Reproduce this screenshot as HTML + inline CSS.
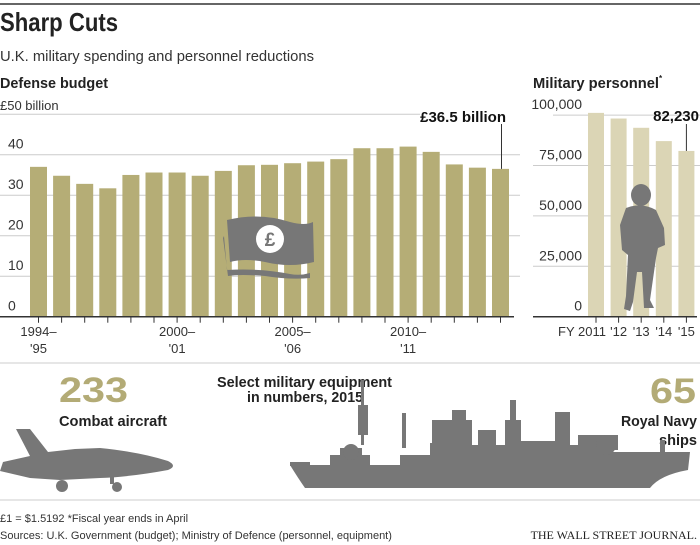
<!DOCTYPE html>
<html><head><meta charset="utf-8"><style>
body{margin:0;background:#fff;}
svg{display:block;font-family:"Liberation Sans",sans-serif;}
</style></head><body>
<svg width="700" height="545" viewBox="0 0 700 545">
<line x1="0" y1="4" x2="700" y2="4" stroke="#333" stroke-width="1.5"/>
<text x="0" y="31" font-size="26" font-weight="bold" fill="#222" textLength="118" lengthAdjust="spacingAndGlyphs">Sharp Cuts</text>
<text x="0" y="61" font-size="15" fill="#333" textLength="314" lengthAdjust="spacingAndGlyphs">U.K. military spending and personnel reductions</text>
<text x="0" y="88" font-size="15" font-weight="bold" fill="#222" textLength="108" lengthAdjust="spacingAndGlyphs">Defense budget</text>
<text x="0" y="110" font-size="13" fill="#333">£50 billion</text>
<text x="533" y="88" font-size="15" font-weight="bold" fill="#222"><tspan textLength="126" lengthAdjust="spacingAndGlyphs">Military personnel</tspan><tspan font-size="8" dy="-7">*</tspan></text>
<g id="budget"></g>
<g id="pers"></g>
<g>
<path d="M227 220 Q260 212 290 222 Q305 226 313 222 L314 262 Q290 268 265 262 Q245 258 230 262 Z" fill="#777"/>
<path d="M224 236 L227 270 Q260 268 290 274 Q300 276 310 273 L310 278 Q290 280 265 276 Q240 274 228 276 L223 238 Z" fill="#777"/>
<circle cx="270" cy="239" r="14" fill="#fff"/>
<text x="270" y="246" font-size="19" font-weight="bold" fill="#777" text-anchor="middle">£</text>
</g>
<g fill="#777">
<ellipse cx="641" cy="195" rx="10" ry="11"/>
<path d="M626 208 Q641 202 656 210 L664 228 L665 245 L658 248 L656 258 L650 300 L654 308 L644 308 L642 272 L637 272 L633 302 L630 311 L624 309 L626 296 L628 255 L622 250 L620 225 Z"/>
</g>
<line x1="0" y1="363" x2="700" y2="363" stroke="#ccc"/>
<text x="59" y="402" font-size="35" font-weight="bold" fill="#b3ab76" textLength="69" lengthAdjust="spacingAndGlyphs">233</text>
<text x="59" y="426" font-size="15" font-weight="bold" fill="#222" textLength="108" lengthAdjust="spacingAndGlyphs">Combat aircraft</text>
<text x="217" y="387" font-size="15" font-weight="bold" fill="#222" textLength="175" lengthAdjust="spacingAndGlyphs">Select military equipment</text>
<text x="247" y="402" font-size="15" font-weight="bold" fill="#222" textLength="116" lengthAdjust="spacingAndGlyphs">in numbers, 2015</text>
<text x="650" y="403" font-size="35" font-weight="bold" fill="#b3ab76" textLength="46" lengthAdjust="spacingAndGlyphs">65</text>
<text x="621" y="426" font-size="15" font-weight="bold" fill="#222" textLength="76" lengthAdjust="spacingAndGlyphs">Royal Navy</text>
<text x="697" y="445" font-size="15" font-weight="bold" fill="#222" text-anchor="end" textLength="38" lengthAdjust="spacingAndGlyphs">ships</text>
<g fill="#777">
<path d="M16 429 L30 429 L48 452 L75 449 L100 448 Q140 452 168 461 Q178 466 168 470 Q130 477 100 478 L60 480 L30 478 L0 471 L3 462 L30 456 Z"/>
<circle cx="62" cy="486" r="6"/><circle cx="117" cy="487" r="5"/>
<rect x="110" y="474" width="4" height="10"/>
</g>
<g fill="#777">
<path d="M290 465 L400 465 L400 455 L430 455 L430 443 L470 443 L470 445 L510 445 L510 441 L560 441 L560 445 L600 445 L600 452 L690 452 L688 470 Q660 475 650 488 L305 488 Q298 478 290 465 Z"/>
<rect x="330" y="455" width="40" height="10"/>
<rect x="340" y="448" width="22" height="10"/>
<circle cx="351" cy="452" r="8"/>
<rect x="290" y="462" width="20" height="4"/>
<rect x="361" y="380" width="3" height="65"/>
<rect x="358" y="405" width="10" height="30"/>
<rect x="402" y="413" width="4" height="35"/>
<rect x="432" y="420" width="40" height="25"/>
<rect x="452" y="410" width="14" height="15"/>
<rect x="478" y="430" width="18" height="16"/>
<rect x="510" y="400" width="6" height="45"/>
<rect x="505" y="420" width="16" height="25"/>
<rect x="555" y="412" width="15" height="33"/>
<rect x="578" y="435" width="40" height="15"/>
<circle cx="606" cy="445" r="10"/>
<rect x="660" y="440" width="5" height="14"/>
</g>
<line x1="0" y1="500" x2="700" y2="500" stroke="#ccc"/>
<text x="0" y="522" font-size="11" fill="#333">£1 = $1.5192   *Fiscal year ends in April</text>
<text x="0" y="539" font-size="11" fill="#333">Sources: U.K. Government (budget); Ministry of Defence (personnel, equipment)</text>
<text x="697" y="539" font-size="12" font-family="Liberation Serif,serif" fill="#222" text-anchor="end">THE WALL STREET JOURNAL.</text>
</svg>
<script>
const budgetYears=["1994–'95","","","","","","2000–'01","","","","","2005–'06","","","","","2010–'11","","","",""];
const budgetValues=[37,34.8,32.8,31.7,35,35.6,35.6,34.8,36,37.4,37.5,37.9,38.3,38.9,41.6,41.6,42,40.7,37.6,36.8,36.5];
const budgetTicks=[0,10,20,30,40,50];
const persYears=["FY 2011","'12","'13","'14","'15"];
const persValues=[101100,98300,93700,87100,82230];
const persTicks=[0,25000,50000,75000,100000];
const NS="http://www.w3.org/2000/svg";
function mk(p,t,a){const e=document.createElementNS(NS,t);for(const k in a)e.setAttribute(k,a[k]);p.appendChild(e);return e;}
const bg=document.getElementById('budget');
const by=v=>316.7-v*4.05, bx=i=>30+i*23.1, bw=17;
budgetTicks.forEach(t=>{
 if(t>0&&t<50){const l=mk(bg,'line',{x1:0,x2:520,y1:by(t),y2:by(t),stroke:'#ccc'});
 
 }
 if(t<50){const tx=mk(bg,'text',{x:8,y:by(t)-6,'font-size':14,fill:'#333'});tx.textContent=t;
 
 }
});
{const l=mk(bg,'line',{x1:0,x2:420,y1:by(50),y2:by(50),stroke:'#ccc'});

}
budgetValues.forEach((v,i)=>{
 const r=mk(bg,'rect',{x:bx(i),y:by(v),width:bw,height:by(0)-by(v),fill:'#b5ad76'});
 
 
 const tk=mk(bg,'line',{x1:bx(i)+bw/2,x2:bx(i)+bw/2,y1:by(0),y2:by(0)+6,stroke:'#333'});
 
 
 if(budgetYears[i]){const p=budgetYears[i].split('–');
  const t1=mk(bg,'text',{x:bx(i)+bw/2,y:336,'font-size':13,fill:'#333','text-anchor':'middle'});t1.textContent=p[0]+'–';
  
  
  const t2=mk(bg,'text',{x:bx(i)+bw/2,y:353,'font-size':13,fill:'#333','text-anchor':'middle'});t2.textContent=p[1];
  
  }
});
{const l=mk(bg,'line',{x1:0,x2:514,y1:by(0),y2:by(0),stroke:'#333','stroke-width':1.5});


const li=budgetValues.length-1;
const c=mk(bg,'line',{x1:bx(li)+bw/2+1,x2:bx(li)+bw/2+1,y1:124,y2:by(budgetValues[li]),stroke:'#333'});


const ct=mk(bg,'text',{x:506,y:122,'font-size':15,'font-weight':'bold',fill:'#111','text-anchor':'end'});ct.textContent='£'+budgetValues[li]+' billion';

}
const pg=document.getElementById('pers');
const py=v=>316.7-v*50.4/25000, px=i=>588+i*22.6, pw=16;
persTicks.forEach(t=>{
 if(t>0){const l=mk(pg,'line',{x1:t==100000?553:533,x2:700,y1:py(t),y2:py(t),stroke:'#ccc'});
 
 }
 const tx=mk(pg,'text',{x:582,y:py(t)-6,'font-size':14,fill:'#333','text-anchor':'end'});tx.textContent=t.toLocaleString('en-US');
 
 
});
persValues.forEach((v,i)=>{
 const r=mk(pg,'rect',{x:px(i),y:py(v),width:pw,height:py(0)-py(v),fill:'#dbd5b5'});
 
 
 const tk=mk(pg,'line',{x1:px(i)+pw/2,x2:px(i)+pw/2,y1:py(0),y2:py(0)+6,stroke:'#333'});
 
 
 const tx=mk(pg,'text',{x:i==0?px(i)+pw/2+10:px(i)+pw/2,y:336,'font-size':13,fill:'#333','text-anchor':i==0?'end':'middle'});tx.textContent=persYears[i];
 
 
});
{const l=mk(pg,'line',{x1:533,x2:697,y1:py(0),y2:py(0),stroke:'#333','stroke-width':1.5});


const li=persValues.length-1;
const c=mk(pg,'line',{x1:px(li)+pw/2,x2:px(li)+pw/2,y1:124,y2:py(persValues[li]),stroke:'#333'});


const ct=mk(pg,'text',{x:699,y:121,'font-size':15,'font-weight':'bold',fill:'#111','text-anchor':'end'});ct.textContent=persValues[li].toLocaleString('en-US');

}
</script>
</body></html>
